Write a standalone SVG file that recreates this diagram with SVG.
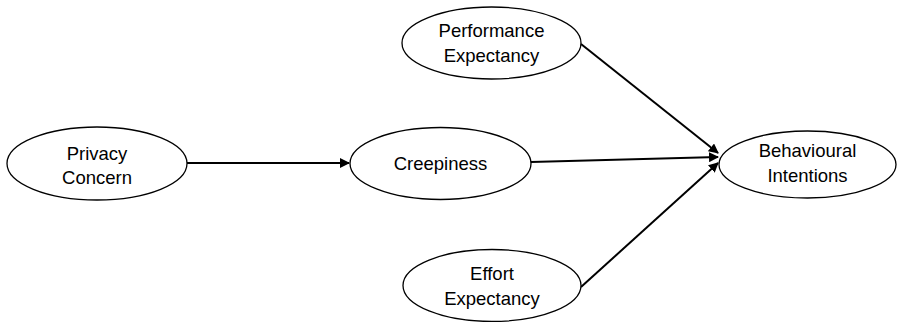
<svg xmlns="http://www.w3.org/2000/svg" width="899" height="322" viewBox="0 0 899 322">
<style>
.n{fill:#fff;stroke:#000;stroke-width:1.3}
.t{font-family:"Liberation Sans",Arial,sans-serif;font-size:18.5px;fill:#000;text-anchor:middle}
.c{stroke:#000;stroke-width:2;fill:none;marker-end:url(#ah)}
</style>
<defs>
<marker id="ah" viewBox="0 0 10 10" refX="9" refY="5" markerWidth="5" markerHeight="5" orient="auto" markerUnits="strokeWidth">
<path d="M0,0 L10,5 L0,10 z" fill="#000"/>
</marker>
</defs>
<rect width="899" height="322" fill="#fff"/>
<g id="connectors">
<line class="c" x1="187" y1="163" x2="349" y2="163"/>
<line class="c" x1="531" y1="162" x2="718" y2="157"/>
<line class="c" x1="581" y1="44" x2="718" y2="153"/>
<line class="c" x1="581" y1="287" x2="718" y2="163"/>
</g>
<g id="privacy">
<ellipse class="n" cx="97" cy="163.5" rx="90" ry="36.5"/>
<text class="t" x="97" y="160">Privacy</text>
<text class="t" x="97" y="184">Concern</text>
</g>
<g id="creepiness">
<ellipse class="n" cx="440.5" cy="163.5" rx="90.5" ry="36"/>
<text class="t" x="440.5" y="170">Creepiness</text>
</g>
<g id="performance">
<ellipse class="n" cx="491.5" cy="43" rx="89.5" ry="36"/>
<text class="t" x="491.5" y="37">Performance</text>
<text class="t" x="491.5" y="61.5">Expectancy</text>
</g>
<g id="effort">
<ellipse class="n" cx="492" cy="285.5" rx="89" ry="36"/>
<text class="t" x="492" y="280">Effort</text>
<text class="t" x="492" y="305">Expectancy</text>
</g>
<g id="behavioural">
<ellipse class="n" cx="807.5" cy="164.5" rx="88.5" ry="33.5"/>
<text class="t" x="807.5" y="157">Behavioural</text>
<text class="t" x="807.5" y="182">Intentions</text>
</g>
</svg>
